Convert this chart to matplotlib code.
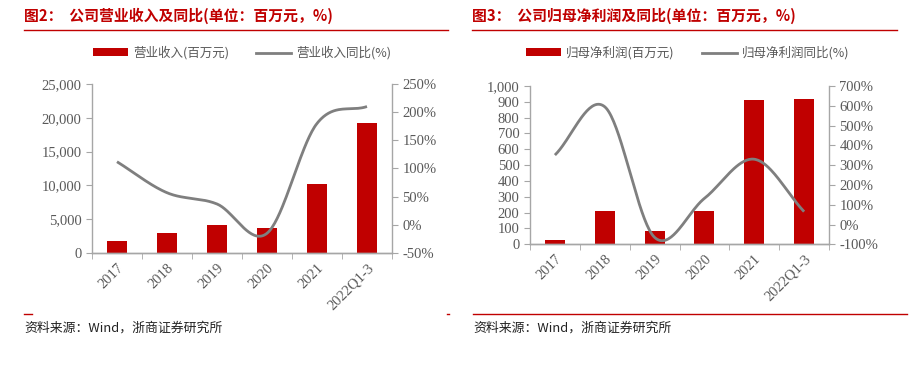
import numpy as np
import matplotlib
matplotlib.use("Agg")
import matplotlib.pyplot as plt
from matplotlib.lines import Line2D
from matplotlib.patches import Patch

# data
categories = ["2017", "2018", "2019", "2020", "2021", "2022Q1-3"]
revenue = [1780, 2920, 4090, 3720, 10170, 19280]          # 百万元
revenue_yoy = [112, 57, 37, -15, 180, 210]                 # %
profit = [28, 210, 85, 210, 911, 918]                      # 百万元
profit_yoy = [351, 595, -65, 132, 330, 65]                 # %

RED = "#C00000"
GRAY = "#7F7F7F"
SPINE = "#A6A6A6"
TXT = "#595959"
CJK = ["Noto Sans CJK SC", "DejaVu Sans"]
SERIF = ["Liberation Serif", "DejaVu Serif"]

W, H = 917, 367


def px_axes(fig, left, top, right, bottom):
    return fig.add_axes([left / W, 1 - bottom / H, (right - left) / W, (bottom - top) / H])


def catmull_rom(xs, ys, n=40):
    xs = np.asarray(xs, float)
    ys = np.asarray(ys, float)
    px = np.concatenate([[2 * xs[0] - xs[1]], xs, [2 * xs[-1] - xs[-2]]])
    py = np.concatenate([[2 * ys[0] - ys[1]], ys, [2 * ys[-1] - ys[-2]]])
    out_x, out_y = [], []
    t = np.linspace(0, 1, n)
    for i in range(1, len(px) - 2):
        for p, out in ((px, out_x), (py, out_y)):
            p0, p1, p2, p3 = p[i - 1], p[i], p[i + 1], p[i + 2]
            seg = 0.5 * ((2 * p1) + (-p0 + p2) * t + (2 * p0 - 5 * p1 + 4 * p2 - p3) * t ** 2
                         + (-p0 + 3 * p1 - 3 * p2 + p3) * t ** 3)
            out.extend(seg)
    return np.array(out_x), np.array(out_y)


def draw_panel(fig, box, bars, pct, ymax, ystep, pmin, pmax, pstep):
    ax = px_axes(fig, *box)
    x = np.arange(len(categories))
    ax.bar(x, bars, width=0.4, color=RED, zorder=2)
    ax.set_xlim(-0.5, len(categories) - 0.5)
    ax.set_ylim(0, ymax)
    ax.set_yticks(np.arange(0, ymax + 1, ystep))
    ax.yaxis.set_major_formatter(matplotlib.ticker.FuncFormatter(lambda v, p: f"{int(v):,}"))
    ax.set_xticks(x)
    ax.set_xticklabels(categories, rotation=45, ha="right", rotation_mode="anchor")
    ax.set_xticks(np.arange(-0.5, len(categories)), minor=True)
    ax.tick_params(axis="x", which="major", length=0, pad=6)
    ax.tick_params(axis="x", which="minor", length=4, color=SPINE, direction="out")
    ax.tick_params(axis="y", length=4, color=SPINE, direction="out")

    ax2 = ax.twinx()
    sx, sy = catmull_rom(x, pct)
    ax2.plot(sx, sy, color=GRAY, lw=2, solid_capstyle="butt", zorder=3)
    ax2.set_ylim(pmin, pmax)
    ax2.set_yticks(np.arange(pmin, pmax + 1, pstep))
    ax2.yaxis.set_major_formatter(matplotlib.ticker.FuncFormatter(lambda v, p: f"{int(v)}%"))
    ax2.tick_params(axis="y", length=4, color=SPINE, direction="out")

    for a in (ax, ax2):
        a.spines["top"].set_visible(False)
        for s in ("left", "right", "bottom"):
            a.spines[s].set_color(SPINE)
            a.spines[s].set_linewidth(1)
        for lab in a.get_xticklabels() + a.get_yticklabels():
            lab.set_fontfamily(SERIF)
            lab.set_fontsize(10.5)
            lab.set_color(TXT)
    ax2.spines["left"].set_visible(False)
    ax.spines["right"].set_visible(False)
    return ax, ax2


fig = plt.figure(figsize=(W / 100, H / 100), dpi=100)

draw_panel(fig, (92, 84, 392, 253), revenue, revenue_yoy, 25000, 5000, -50, 250, 50)
draw_panel(fig, (530, 86, 829, 244.3), profit, profit_yoy, 1000, 100, -100, 700, 100)

# titles and rules
fig.text(24 / W, 1 - 16 / H, "图2：  公司营业收入及同比(单位：百万元，%)", color=RED,
         fontsize=10.7, fontweight="bold", family=CJK, va="center", ha="left")
fig.text(472 / W, 1 - 16 / H, "图3：  公司归母净利润及同比(单位：百万元，%)", color=RED,
         fontsize=10.7, fontweight="bold", family=CJK, va="center", ha="left")
fig.add_artist(Line2D([24 / W, 448 / W], [1 - 30 / H] * 2, color=RED, lw=1))
fig.add_artist(Line2D([472 / W, 897 / W], [1 - 30 / H] * 2, color=RED, lw=1))

# legends
for cx, labs in ((242, ("营业收入(百万元)", "营业收入同比(%)")),
                 (688, ("归母净利润(百万元)", "归母净利润同比(%)"))):
    handles = [Patch(facecolor=RED, edgecolor="none"), Line2D([], [], color=GRAY, lw=2)]
    leg = fig.legend(handles, labs, loc="center", bbox_to_anchor=(cx / W, 1 - 53 / H), ncol=2,
                     frameon=False, handlelength=2.8, handleheight=0.6, columnspacing=2.2,
                     handletextpad=0.4, prop={"family": CJK, "size": 9})
    for t in leg.get_texts():
        t.set_color(TXT)

# bottom rules and source notes
fig.add_artist(Line2D([24 / W, 32 / W], [1 - 314 / H] * 2, color=RED, lw=1))
fig.add_artist(Line2D([447 / W, 449 / W], [1 - 314 / H] * 2, color=RED, lw=1))
fig.add_artist(Line2D([473 / W, 907 / W], [1 - 314 / H] * 2, color=RED, lw=1))
fig.text(24 / W, 1 - 328 / H, "资料来源：Wind，浙商证券研究所", fontsize=9.3, family=CJK,
         va="center", ha="left", color="#222222")
fig.text(473 / W, 1 - 328 / H, "资料来源：Wind，浙商证券研究所", fontsize=9.3, family=CJK,
         va="center", ha="left", color="#222222")

fig.savefig("out.png", dpi=100)
